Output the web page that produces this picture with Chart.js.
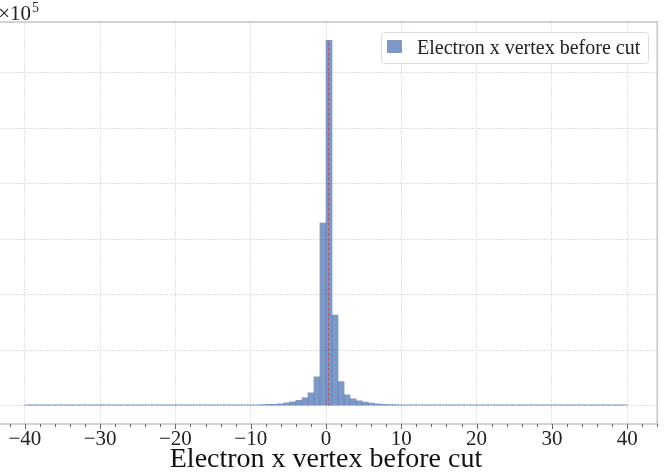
<!DOCTYPE html>
<html>
<head>
<meta charset="utf-8">
<script src="https://cdn.jsdelivr.net/npm/chart.js@4.4.1/dist/chart.umd.min.js"></script>
<style>
  html, body { margin: 0; padding: 0; background: #fff; overflow: hidden; }
  #wrap { position: absolute; left: -40px; top: 0; width: 706px; height: 473px; }
</style>
</head>
<body>
<div id="wrap"><canvas id="vertexChart" width="706" height="473"></canvas></div>
<script>
// histogram binning (100 bins from -40 to 40)
const binStart = -40;
const binWidth = 0.8;

// counts per bin
const leftTail = [520, 510, 530, 500, 520, 540, 510, 530, 520, 500, 530, 540, 520, 510, 530, 550,
  520, 540, 530, 560, 540, 550, 570, 560, 580, 560, 590, 600, 580, 610, 620, 640];
const core = [1100, 1150, 1200, 1250, 1300, 1400, 1700, 1850, 2400, 2600, 3600, 5400, 7200, 9700,
  14000, 23400, 52100, 329000, 658000, 163000, 43700, 19800, 12600, 9000, 6650, 4850, 3600, 2700,
  2200, 2000, 1400, 1300, 1200, 1100, 700, 1400];
const rightTail = [640, 620, 610, 600, 590, 580, 590, 570, 560, 570, 550, 560, 540, 550, 530, 540,
  530, 520, 530, 510, 520, 510, 500, 520, 510, 500, 510, 500, 490, 500, 490, 480];
const counts = leftTail.concat(core, rightTail);

const xTickValues = [-40, -30, -20, -10, 0, 10, 20, 30, 40];
const yTickValues = [0, 100000, 200000, 300000, 400000, 500000, 600000];
const xMinorStep = 2;
const seriesLabel = "Electron x vertex before cut";
const axisTitle = "Electron x vertex before cut";
const meanX = 0.36;

const shift = 40; // canvas is pushed left so the y labels fall off the page
const serif = "'Liberation Serif', 'DejaVu Serif', serif";
const barColor = "rgba(76,114,176,0.72)";
const peak = Math.max(...counts);

const decorPlugin = {
  id: "decor",
  afterDraw(chart) {
    const c = chart.ctx;
    const a = chart.chartArea;
    const xs = chart.scales.x;
    c.save();
    // frame top / right / bottom
    c.strokeStyle = "#c4c4c4";
    c.lineWidth = 1.5;
    c.beginPath();
    c.moveTo(a.left, a.top);
    c.lineTo(a.right, a.top);
    c.lineTo(a.right, a.bottom);
    c.lineTo(a.left, a.bottom);
    c.stroke();
    // tick marks
    c.strokeStyle = "#666";
    c.lineWidth = 1;
    for (let v = -44; v <= 44; v += xMinorStep) {
      const px = Math.round(xs.getPixelForValue(v)) + 0.5;
      const major = xTickValues.includes(v);
      c.beginPath();
      c.moveTo(px, a.bottom);
      c.lineTo(px, a.bottom + (major ? 5 : 3));
      c.stroke();
    }
    // axis title
    c.fillStyle = "#111";
    c.font = "28px " + serif;
    c.textAlign = "center";
    c.textBaseline = "alphabetic";
    c.fillText(axisTitle, xs.getPixelForValue(0), 467);
    // exponent label
    c.fillStyle = "#222";
    c.font = "21px " + serif;
    c.textAlign = "right";
    c.fillText("\u00d710", 31 + shift, 20);
    c.font = "14px " + serif;
    c.textAlign = "left";
    c.fillText("5", 32 + shift, 12);
    // legend
    const lx = 381 + shift, ly = 32, lw = 267, lh = 31;
    c.fillStyle = "rgba(255,255,255,0.85)";
    c.strokeStyle = "#dcdcdc";
    c.lineWidth = 1;
    c.beginPath();
    c.roundRect(lx + 0.5, ly + 0.5, lw, lh, 3);
    c.fill();
    c.stroke();
    c.fillStyle = barColor;
    c.fillRect(lx + 6, ly + 8, 15, 13);
    c.fillStyle = "#222";
    c.font = "20px " + serif;
    c.textBaseline = "middle";
    c.fillText(chart.data.datasets[0].label, lx + 36, ly + lh / 2 + 1);
    c.restore();
  }
};

const ctx = document.getElementById("vertexChart");
new Chart(ctx, {
  data: {
    datasets: [
      {
        type: "bar",
        label: seriesLabel,
        data: counts.map((v, i) => ({ x: binStart + binWidth * (i + 0.5), y: v })),
        backgroundColor: barColor,
        borderWidth: 0,
        barPercentage: 1,
        categoryPercentage: 1,
        grouped: false,
        minBarLength: 1,
        order: 2
      },
      {
        type: "line",
        label: "mean",
        data: [{ x: meanX, y: 0 }, { x: meanX, y: peak }],
        borderColor: "rgba(214,39,40,0.7)",
        borderWidth: 1,
        borderDash: [3, 2],
        pointRadius: 0,
        order: 1
      }
    ]
  },
  options: {
    responsive: false,
    animation: false,
    layout: { padding: { left: 34.7, right: 8.7, top: 22, bottom: 0 } },
    plugins: { legend: { display: false }, tooltip: { enabled: false } },
    scales: {
      x: {
        type: "linear",
        offset: false,
        min: -44,
        max: 44,
        afterBuildTicks: (s) => { s.ticks = xTickValues.map((v) => ({ value: v })); },
        afterFit: (s) => { s.height = 49; },
        grid: { color: "#e0e0e0", drawTicks: false, offset: false },
        border: { display: false, dash: [2, 1] },
        ticks: {
          padding: 3,
          color: "#222",
          font: { family: serif, size: 21 },
          maxRotation: 0,
          callback: (v) => String(v).replace("-", "\u2212")
        }
      },
      y: {
        min: -0.05 * peak,
        max: 1.05 * peak,
        afterBuildTicks: (s) => { s.ticks = yTickValues.map((v) => ({ value: v })); },
        afterFit: (s) => { s.width = 0; },
        grid: { color: "#e0e0e0", drawTicks: false },
        border: { display: false, dash: [2, 1] },
        ticks: { display: false }
      }
    }
  },
  plugins: [decorPlugin]
});
</script>
</body>
</html>
